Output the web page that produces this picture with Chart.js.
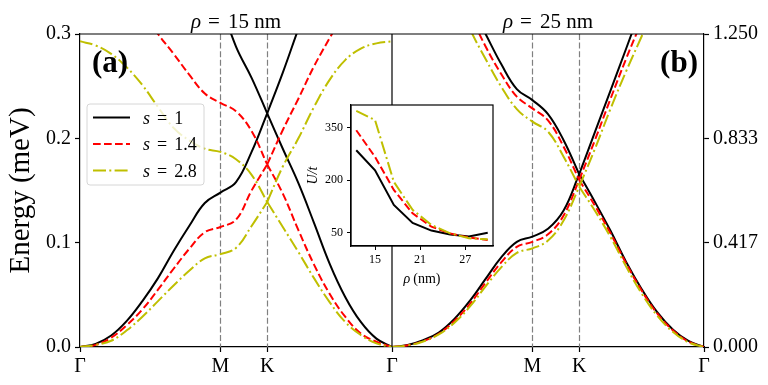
<!DOCTYPE html>
<html>
<head>
<meta charset="utf-8">
<script src="https://cdn.jsdelivr.net/npm/chart.js@4.4.1/dist/chart.umd.min.js"></script>
<style>
  html, body { margin: 0; padding: 0; background: #fff; }
  #wrap { position: relative; width: 768px; height: 385px; }
  #wrap canvas { position: absolute; left: 0; top: 0; }
</style>
</head>
<body>
<div id="wrap">
  <canvas id="bands" width="768" height="385"></canvas>
  <canvas id="inset" width="768" height="385"></canvas>
</div>
<script>
// path through the zone: 0 = Γ, 0.45 = M, 0.6 = K, 1 = Γ
const kPath = [0, 0.05, 0.1, 0.15, 0.2, 0.25, 0.3, 0.35, 0.4, 0.45, 0.5, 0.55, 0.6, 0.65, 0.7, 0.75, 0.8, 0.85, 0.9, 0.95, 1];
const kIndexK = 12;
const symLabels = ['Γ', 'M', 'K', 'Γ', 'M', 'K', 'Γ'];
const symPositions = [0, 0.45, 0.6, 1, 1.45, 1.6, 2];
const dashedAt = [0.45, 0.6, 1.45, 1.6];

const sValues = ['1', '1.4', '2.8'];

// (a) rho = 15 nm, energy in meV
const aLow_s1  = [0, 0.003, 0.011, 0.025, 0.044, 0.066, 0.092, 0.116, 0.138, 0.148, 0.158, 0.187, 0.224, 0.190, 0.157, 0.119, 0.080, 0.048, 0.024, 0.008, 0];
const aUp_s1   = [null, null, null, null, null, null, null, null, null, 0.330, 0.288, 0.258, 0.224, 0.263, 0.305, 0.345, null, null, null, null, null];
const aLow_s14 = [0, 0.002, 0.009, 0.021, 0.036, 0.055, 0.075, 0.094, 0.110, 0.115, 0.122, 0.150, 0.175, 0.147, 0.112, 0.079, 0.051, 0.029, 0.013, 0.005, 0];
const aUp_s14  = [null, null, null, null, 0.322, 0.300, 0.281, 0.261, 0.243, 0.234, 0.226, 0.207, 0.175, 0.208, 0.238, 0.269, 0.296, 0.322, null, null, null];
const aLow_s28 = [0, 0.002, 0.006, 0.016, 0.029, 0.044, 0.059, 0.073, 0.085, 0.089, 0.095, 0.116, 0.139, 0.115, 0.091, 0.066, 0.043, 0.024, 0.0115, 0.0035, 0];
const aUp_s28  = [0.293, 0.289, 0.281, 0.268, 0.251, 0.230, 0.210, 0.198, 0.190, 0.187, 0.180, 0.165, 0.139, 0.173, 0.200, 0.230, 0.256, 0.275, 0.286, 0.291, 0.293];

// (b) rho = 25 nm
const bLow_s1  = [0, 0.008, 0.027, 0.058, 0.112, 0.185, 0.272, 0.358, 0.420, 0.441, 0.472, 0.545, 0.690, 0.580, 0.465, 0.341, 0.232, 0.139, 0.070, 0.024, 0];
const bUp_s1   = [null, null, null, null, null, 1.37, 1.25, 1.13, 1.03, 0.986, 0.93, 0.826, 0.690, 0.857, 1.023, 1.19, 1.36, null, null, null, null];
const bLow_s14 = [0, 0.007, 0.024, 0.053, 0.104, 0.172, 0.257, 0.338, 0.400, 0.420, 0.450, 0.525, 0.667, 0.565, 0.455, 0.335, 0.226, 0.134, 0.067, 0.022, 0];
const bUp_s14  = [null, null, null, null, null, 1.33, 1.20, 1.09, 1.00, 0.953, 0.905, 0.80, 0.667, 0.825, 0.99, 1.15, 1.30, null, null, null, null];
const bLow_s28 = [0, 0.006, 0.022, 0.050, 0.097, 0.162, 0.242, 0.318, 0.376, 0.394, 0.425, 0.505, 0.640, 0.545, 0.440, 0.322, 0.214, 0.125, 0.061, 0.019, 0];
const bUp_s28  = [null, null, null, null, 1.42, 1.27, 1.15, 1.04, 0.95, 0.90, 0.86, 0.76, 0.640, 0.79, 0.95, 1.10, 1.24, 1.38, null, null, null];

const yTicksA = [0, 0.1, 0.2, 0.3];
const yTicksB = [0, 0.41667, 0.83333, 1.25];

// inset: U/t against rho
const rhoNm = [12.5, 15, 17.5, 20, 22.5, 25, 27.5, 30];
const uS1  = [285, 228, 129, 78, 56, 45, 39, 50];
const uS14 = [342, 266, 172, 105, 67, 48, 36, 29];
const uS28 = [397, 371, 195, 115, 72, 48, 34, 31];
const insetXTicks = [15, 21, 27];
const insetYTicks = [50, 200, 350];

const FONT = '"Liberation Serif", "DejaVu Serif", serif';
Chart.defaults.font.family = FONT;
Chart.defaults.color = '#000';

const styles = [
  { color: '#000000', dash: [] },
  { color: '#ff0000', dash: [7.7, 3.3] },
  { color: '#bfbf00', dash: [13, 3.3, 2, 3.3] }
];

// split a band at K so the Dirac point keeps its sharp corner
function pieces(values, offset) {
  const left = [], right = [];
  kPath.forEach((k, i) => {
    const v = values[i];
    if (v === null) return;
    if (i <= kIndexK) left.push({ x: k + offset, y: v });
    if (i >= kIndexK) right.push({ x: k + offset, y: v });
  });
  return [left, right];
}

const panels = [
  { offset: 0, axis: 'yA', bands: [[aLow_s1, aUp_s1], [aLow_s14, aUp_s14], [aLow_s28, aUp_s28]] },
  { offset: 1, axis: 'yB', bands: [[bLow_s1, bUp_s1], [bLow_s14, bUp_s14], [bLow_s28, bUp_s28]] }
];

const datasets = [];
panels.forEach(p => {
  p.bands.forEach((pair, si) => {
    pair.forEach(values => {
      pieces(values, p.offset).forEach(pts => {
        datasets.push({
          data: pts,
          yAxisID: p.axis,
          borderColor: styles[si].color,
          borderDash: styles[si].dash,
          borderWidth: 2,
          pointRadius: 0,
          tension: 0.4,
          clip: 0,
          order: 2 - si
        });
      });
    });
  });
});

// text with an italic part, e.g. rho or s
function drawParts(ctx, parts, x, y, size, align) {
  let total = 0;
  parts.forEach(p => {
    ctx.font = (p.it ? 'italic ' : '') + size + 'px ' + FONT;
    p.w = ctx.measureText(p.t).width;
    total += p.w + (p.gap || 0);
  });
  let cx = align === 'center' ? x - total / 2 : x;
  ctx.textAlign = 'left';
  ctx.textBaseline = 'alphabetic';
  parts.forEach(p => {
    ctx.font = (p.it ? 'italic ' : '') + size + 'px ' + FONT;
    ctx.fillText(p.t, cx, y);
    cx += p.w + (p.gap || 0);
  });
}

const decorations = {
  id: 'decorations',
  beforeDatasetsDraw(chart) {
    const { ctx, chartArea: a, scales } = chart;
    ctx.save();
    ctx.strokeStyle = '#808080';
    ctx.lineWidth = 1.2;
    ctx.setLineDash([6, 2.6]);
    dashedAt.forEach(v => {
      const x = Math.round(scales.x.getPixelForValue(v)) + 0.5;
      ctx.beginPath();
      ctx.moveTo(x, a.top);
      ctx.lineTo(x, a.bottom);
      ctx.stroke();
    });
    ctx.restore();
  },
  afterDatasetsDraw(chart) {
    const { ctx, chartArea: a, scales } = chart;
    ctx.save();
    ctx.strokeStyle = '#000';
    ctx.lineWidth = 1.2;
    ctx.beginPath();
    ctx.moveTo(a.left, a.top);
    ctx.lineTo(a.right, a.top);
    const xm = scales.x.getPixelForValue(1);
    ctx.moveTo(xm, a.top);
    ctx.lineTo(xm, a.bottom);
    ctx.stroke();
    ctx.restore();
  },
  afterDraw(chart) {
    const { ctx, chartArea: a, scales } = chart;
    ctx.save();
    ctx.fillStyle = '#000';
    const cA = (scales.x.getPixelForValue(0) + scales.x.getPixelForValue(1)) / 2;
    const cB = (scales.x.getPixelForValue(1) + scales.x.getPixelForValue(2)) / 2;
    drawParts(ctx, [{ t: 'ρ', it: true, gap: 7 }, { t: '=', gap: 8 }, { t: '15 nm' }], cA, 28, 21, 'center');
    drawParts(ctx, [{ t: 'ρ', it: true, gap: 7 }, { t: '=', gap: 8 }, { t: '25 nm' }], cB, 28, 21, 'center');

    ctx.font = 'bold 31px ' + FONT;
    ctx.textBaseline = 'alphabetic';
    ctx.textAlign = 'left';
    ctx.fillText('(a)', a.left + 12, 72);
    ctx.textAlign = 'right';
    ctx.fillText('(b)', a.right - 6, 72);

    // legend
    const bx = 87, by = 104, bw = 117, bh = 81;
    ctx.beginPath();
    ctx.roundRect(bx, by, bw, bh, 3);
    ctx.fillStyle = 'rgba(255,255,255,0.8)';
    ctx.fill();
    ctx.strokeStyle = '#d6d6d6';
    ctx.lineWidth = 1;
    ctx.stroke();
    sValues.forEach((s, i) => {
      const y = 117.5 + i * 26.5;
      ctx.beginPath();
      ctx.strokeStyle = styles[i].color;
      ctx.setLineDash(styles[i].dash);
      ctx.lineWidth = 2;
      ctx.moveTo(93, y);
      ctx.lineTo(130, y);
      ctx.stroke();
      ctx.setLineDash([]);
      ctx.fillStyle = '#000';
      drawParts(ctx, [{ t: 's', it: true, gap: 7 }, { t: '=', gap: 7 }, { t: s }], 143, y + 6, 18, 'left');
    });
    ctx.restore();
  }
};

const tickGrid = { drawOnChartArea: false, drawTicks: true, tickLength: 5, tickColor: '#000', tickWidth: 1.2 };
const axisBorder = { display: true, color: '#000', width: 1.2 };

new Chart(document.getElementById('bands'), {
  type: 'line',
  data: { datasets },
  options: {
    responsive: false,
    animation: false,
    parsing: false,
    layout: { padding: { top: 34, left: 0, right: 0, bottom: 0 } },
    plugins: { legend: { display: false }, tooltip: { enabled: false } },
    scales: {
      x: {
        type: 'linear', min: 0, max: 2,
        afterBuildTicks: s => { s.ticks = symPositions.map(v => ({ value: v })); },
        afterFit: s => { s.height = 38; },
        ticks: { callback: (v, i) => symLabels[i], autoSkip: false, maxRotation: 0, padding: 3, font: { size: 20 } },
        grid: tickGrid, border: axisBorder
      },
      yA: {
        type: 'linear', position: 'left', min: 0, max: 0.3,
        afterBuildTicks: s => { s.ticks = yTicksA.map(v => ({ value: v })); },
        afterFit: s => { s.width = 80; },
        ticks: { callback: v => v.toFixed(1), padding: 4, font: { size: 20 } },
        title: { display: true, text: 'Energy (meV)', font: { size: 29 }, padding: { top: 4, bottom: 4 } },
        grid: tickGrid, border: axisBorder
      },
      yB: {
        type: 'linear', position: 'right', min: 0, max: 1.25,
        afterBuildTicks: s => { s.ticks = yTicksB.map(v => ({ value: v })); },
        afterFit: s => { s.width = 64; },
        ticks: { callback: v => v.toFixed(3), padding: 4, font: { size: 20 } },
        grid: tickGrid, border: axisBorder
      }
    }
  },
  plugins: [decorations]
});

const insetFrame = {
  id: 'insetFrame',
  beforeDraw(chart) {
    const { ctx, chartArea: a } = chart;
    ctx.save();
    ctx.fillStyle = '#fff';
    ctx.fillRect(a.left, a.top, a.right - a.left, a.bottom - a.top);
    ctx.restore();
  },
  afterDatasetsDraw(chart) {
    const { ctx, chartArea: a } = chart;
    ctx.save();
    ctx.strokeStyle = '#000';
    ctx.lineWidth = 1.2;
    ctx.strokeRect(a.left, a.top, a.right - a.left, a.bottom - a.top);
    ctx.restore();
  },
  afterDraw(chart) {
    // axis name with italic rho
    const { ctx, chartArea: a } = chart;
    ctx.save();
    ctx.fillStyle = '#000';
    drawParts(ctx, [{ t: 'ρ', it: true, gap: 3 }, { t: '(nm)' }], (a.left + a.right) / 2, 283, 14, 'center');
    ctx.restore();
  }
};

const insetSeries = [uS1, uS14, uS28];
new Chart(document.getElementById('inset'), {
  type: 'line',
  data: {
    datasets: insetSeries.map((vals, si) => ({
      data: rhoNm.map((r, i) => ({ x: r, y: vals[i] })),
      borderColor: styles[si].color,
      borderDash: styles[si].dash,
      borderWidth: 2,
      pointRadius: 0,
      tension: 0,
      clip: 0,
      order: 2 - si
    }))
  },
  options: {
    responsive: false,
    animation: false,
    parsing: false,
    layout: { padding: { top: 105, left: 303, right: 275, bottom: 94 } },
    plugins: { legend: { display: false }, tooltip: { enabled: false } },
    scales: {
      x: {
        type: 'linear', min: 11.8, max: 30.7,
        afterBuildTicks: s => { s.ticks = insetXTicks.map(v => ({ value: v })); },
        afterFit: s => { s.height = 45; },
        ticks: { padding: 3, font: { size: 12 }, maxRotation: 0 },
        grid: { drawOnChartArea: false, tickLength: 4, tickColor: '#000', tickWidth: 1 },
        border: { display: true, color: '#000', width: 1.2 }
      },
      y: {
        type: 'linear', min: 12, max: 414,
        afterBuildTicks: s => { s.ticks = insetYTicks.map(v => ({ value: v })); },
        afterFit: s => { s.width = 48; },
        ticks: { padding: 4, font: { size: 12 } },
        title: { display: true, text: 'U/t', font: { size: 14, style: 'italic' }, padding: { top: 2, bottom: 2 } },
        grid: { drawOnChartArea: false, tickLength: 4, tickColor: '#000', tickWidth: 1 },
        border: { display: true, color: '#000', width: 1.2 }
      }
    }
  },
  plugins: [insetFrame]
});
</script>
</body>
</html>
